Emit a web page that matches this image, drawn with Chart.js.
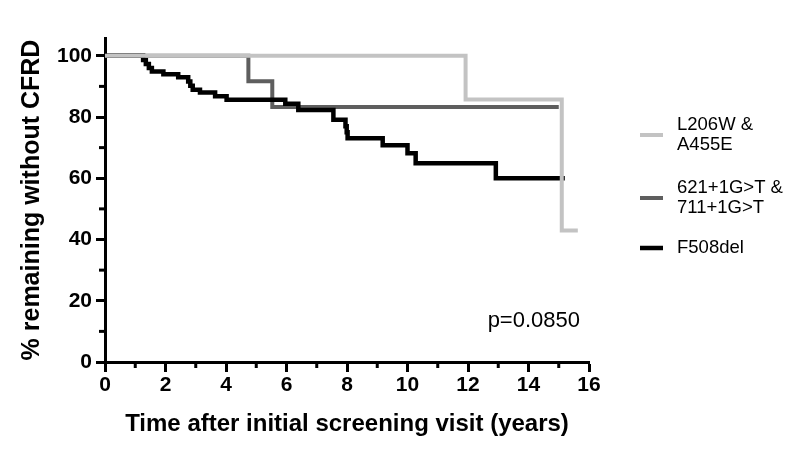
<!DOCTYPE html>
<html><head><meta charset="utf-8">
<script src="https://cdn.jsdelivr.net/npm/chart.js@4.4.0/dist/chart.umd.min.js"></script>
<style>html,body{margin:0;padding:0;background:#fff;} #wrap{width:800px;height:454px;position:relative;}</style>
</head><body><div id="wrap"><canvas id="c" width="800" height="454"></canvas></div>
<script>
// ---- data ----
const seriesNames = [["L206W &", "A455E"], ["621+1G>T &", "711+1G>T"], ["F508del"]];
const l206wX = [0, 11.92, 15.1, 15.63];
const l206wY = [100, 85.7, 42.9, 42.9];
const g621X = [0, 4.74, 5.53, 15.0];
const g621Y = [100, 91.7, 83.3, 83.3];
const f508X = [0, 1.26, 1.35, 1.45, 1.55, 1.93, 2.42, 2.75, 2.82, 2.9, 3.14, 3.64, 4.02, 5.96, 6.39, 7.55, 7.95, 7.99, 8.02, 9.18, 10.0, 10.27, 12.92, 15.2];
const f508Y = [100, 98.6, 97.3, 96.0, 94.9, 94.0, 93.0, 91.6, 90.2, 88.9, 88.0, 86.8, 85.6, 84.3, 82.3, 79.1, 77.0, 75.0, 73.1, 70.8, 68.2, 64.9, 60.0, 60.0];
const xTicks = [0, 2, 4, 6, 8, 10, 12, 14, 16];
const xMinor = [1, 3, 5, 7, 9, 11, 13, 15];
const yTicks = [0, 20, 40, 60, 80, 100];
const yMinor = [10, 30, 50, 70, 90];
const pValueText = "p=0.0850";
const xTitle = "Time after initial screening visit (years)";
const yTitle = "% remaining without CFRD";

const colors = ["#c3c3c3", "#5e5e5e", "#000000"];
const widths = [4, 4, 4.5];
const FONT = "'Liberation Sans', Arial, Helvetica, sans-serif";

function pts(xs, ys) { return xs.map((x, i) => ({ x: x, y: ys[i] })); }

const minorTicks = {
  id: 'minorTicks',
  afterDraw(chart) {
    const ctx = chart.ctx, xs = chart.scales.x, ys = chart.scales.y;
    ctx.save();
    ctx.strokeStyle = '#000'; ctx.lineWidth = 3; ctx.lineCap = 'butt';
    const yAxis = ys.getPixelForValue(0);
    xMinor.forEach(v => { const px = xs.getPixelForValue(v); ctx.beginPath(); ctx.moveTo(px, yAxis); ctx.lineTo(px, yAxis + 6); ctx.stroke(); });
    const xAxis = xs.getPixelForValue(0);
    yMinor.forEach(v => { const py = ys.getPixelForValue(v); ctx.beginPath(); ctx.moveTo(xAxis, py); ctx.lineTo(xAxis - 6, py); ctx.stroke(); });
    // p value
    ctx.fillStyle = '#000';
    ctx.font = "22px " + FONT;
    ctx.textAlign = 'right'; ctx.textBaseline = 'middle';
    ctx.fillText(pValueText, 580, 321);
    // legend
    const legY = [[125, 145], [188, 208], [248]];
    const markY = [135, 198, 248];
    ctx.textAlign = 'left';
    ctx.font = "18.5px " + FONT;
    seriesNames.forEach((lines, i) => {
      ctx.strokeStyle = colors[i]; ctx.lineWidth = widths[i];
      ctx.beginPath(); ctx.moveTo(640, markY[i]); ctx.lineTo(663, markY[i]); ctx.stroke();
      lines.forEach((t, j) => ctx.fillText(t, 677, legY[i][j]));
    });
    ctx.restore();
  }
};

const tickFont = { family: FONT, size: 21, weight: 'bold' };

new Chart(document.getElementById('c'), {
  type: 'line',
  data: {
    datasets: [
      { label: seriesNames[0].join(' '), data: pts(l206wX, l206wY), borderColor: colors[0], borderWidth: widths[0], stepped: true, pointRadius: 0, fill: false, order: 0 },
      { label: seriesNames[1].join(' '), data: pts(g621X, g621Y), borderColor: colors[1], borderWidth: widths[1], stepped: true, pointRadius: 0, fill: false, order: 2 },
      { label: seriesNames[2].join(' '), data: pts(f508X, f508Y), borderColor: colors[2], borderWidth: widths[2], stepped: true, pointRadius: 0, fill: false, order: 1 }
    ]
  },
  options: {
    responsive: false,
    animation: false,
    devicePixelRatio: 1,
    layout: { padding: { left: 0, top: 38, right: 211, bottom: 0 } },
    plugins: { legend: { display: false }, tooltip: { enabled: false } },
    scales: {
      x: {
        type: 'linear', min: 0, max: 16,
        afterBuildTicks: s => { s.ticks = xTicks.map(v => ({ value: v })); },
        afterFit: s => { s.height = 92; },
        border: { display: true, color: '#000', width: 3 },
        grid: { drawOnChartArea: false, drawTicks: true, tickLength: 10, tickWidth: 3, tickColor: '#000' },
        ticks: { font: tickFont, color: '#000', padding: 1, maxRotation: 0, autoSkip: false },
        title: { display: true, text: xTitle, font: { family: FONT, size: 24, weight: 'bold' }, color: '#000', padding: { top: 4, bottom: 15 } }
      },
      y: {
        type: 'linear', min: 0, max: 105.8,
        afterBuildTicks: s => { s.ticks = yTicks.map(v => ({ value: v })); },
        afterFit: s => { s.width = 105; },
        border: { display: true, color: '#000', width: 3 },
        grid: { drawOnChartArea: false, drawTicks: true, tickLength: 9, tickWidth: 3, tickColor: '#000' },
        ticks: { font: tickFont, color: '#000', padding: 4 },
        title: { display: true, text: yTitle, font: { family: FONT, size: 25, weight: 'bold' }, color: '#000', padding: { top: 17, bottom: 4 } }
      }
    }
  },
  plugins: [minorTicks]
});
</script>
</body></html>
